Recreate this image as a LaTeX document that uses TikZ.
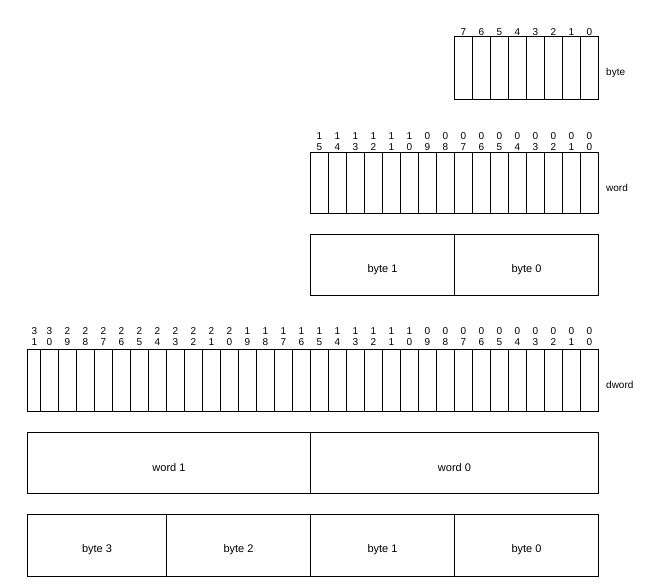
\documentclass[tikz,border=0pt]{standalone}
\usepackage{fontspec}
\setmainfont{Liberation Sans}
\usetikzlibrary{positioning}
\tikzstyle{cell} = [draw=black, line width=1pt]
\tikzstyle{bitnum} = [font=\fontsize{10}{11}\selectfont, inner sep=0pt, align=center]
\tikzstyle{tag} = [font=\fontsize{10}{12}\selectfont, inner sep=0pt, anchor=west]
\tikzstyle{part} = [font=\fontsize{11}{13}\selectfont, inner sep=0pt]

\begin{document}
\begin{tikzpicture}[x=1pt,y=-1pt]
\useasboundingbox (0,0) rectangle (648,586);

% byte (bits 7..0)
\foreach \b in {0,...,7} {
  \draw[cell] ({598.5-18*(\b+1)},36.5) rectangle ({598.5-18*\b},99);
  \node[bitnum] (byte\b) at ({589.5-18*\b},32.3) {\b};
}
\node[tag] (bytetag) at (606,72.5) {byte};

% word (bits 15..0)
\foreach \b in {0,...,15} {
  \pgfmathtruncatemacro{\tens}{\b/10}
  \pgfmathtruncatemacro{\ones}{mod(\b,10)}
  \draw[cell] ({598.5-18*(\b+1)},152.5) rectangle ({598.5-18*\b},213.5);
  \node[bitnum] (word\b) at ({589.5-18*\b},141.2) {\tens\\\ones};
}
\node[tag] (wordtag) at (606,188) {word};

% word split into bytes
\draw[cell] (310.5,234.5) rectangle (598.5,295.5);
\draw[cell] (454.5,234.5) -- (454.5,295.5);
\node[part] (wbyte1) at (382.5,270) {byte 1};
\node[part] (wbyte0) at (526.5,270) {byte 0};

% dword (bits 31..0), leftmost cell is narrower
\foreach \b in {0,...,30} {
  \pgfmathtruncatemacro{\tens}{\b/10}
  \pgfmathtruncatemacro{\ones}{mod(\b,10)}
  \draw[cell] ({598.5-18*(\b+1)},349.5) rectangle ({598.5-18*\b},411.5);
  \node[bitnum] (dword\b) at ({589.5-18*\b},336.2) {\tens\\\ones};
}
\draw[cell] (27.5,349.5) rectangle (40.5,411.5);
\node[bitnum] (dword31) at (34.5,336.2) {3\\1};
\node[tag] (dwordtag) at (606,385) {dword};

% dword split into words
\draw[cell] (27.5,432.5) rectangle (598.5,493.5);
\draw[cell] (310.5,432.5) -- (310.5,493.5);
\node[part] (dword1) at (169,467.5) {word 1};
\node[part] (dword0) at (454.5,467.5) {word 0};

% dword split into bytes
\draw[cell] (27.5,514.5) rectangle (598.5,576);
\foreach \x in {166.5,310.5,454.5}
  \draw[cell] (\x,514.5) -- (\x,576);
\node[part] (dbyte3) at (97,550) {byte 3};
\node[part] (dbyte2) at (238.5,550) {byte 2};
\node[part] (dbyte1) at (382.5,550) {byte 1};
\node[part] (dbyte0) at (526.5,550) {byte 0};
\end{tikzpicture}
\end{document}
